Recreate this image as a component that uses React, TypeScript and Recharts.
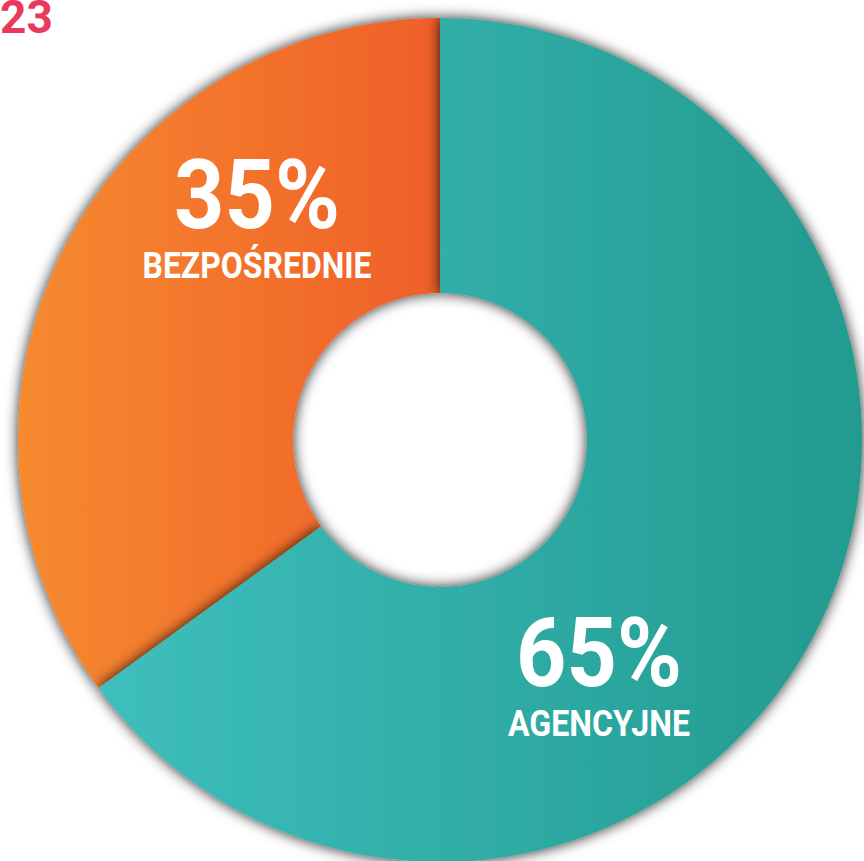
import { PieChart, Pie, Cell } from "recharts";

const categories = ["BEZPOŚREDNIE", "AGENCYJNE"];
const shares = [35, 65];
const pageNumber = "23";

const gradients = [
  { id: "gradOrange", from: "#f68a2f", to: "#ef5f2a" },
  { id: "gradTeal", from: "#3ebfbd", to: "#229a8f" },
];

// where each label block sits, relative to the center of the ring
const labelSpots = [
  { dx: -183, dy: -212 },
  { dx: 159, dy: 246 },
];

const data = categories.map((name, i) => ({ name, value: shares[i] }));

const renderLabel = (props: any) => {
  const { cx, cy, index } = props;
  const spot = labelSpots[index];
  const x = cx + spot.dx;
  const y = cy + spot.dy;
  return (
    <g style={{ fontFamily: "Roboto, sans-serif", fontWeight: 700 }}>
      <text
        x={x}
        y={y}
        textAnchor="middle"
        fill="#ffffff"
        fontSize={96}
        textLength={166}
        lengthAdjust="spacingAndGlyphs"
      >
        {shares[index]}%
      </text>
      <text
        x={x}
        y={y + 50}
        textAnchor="middle"
        fill="#ffffff"
        fontSize={36}
        textLength={index === 0 ? 229 : 182}
        lengthAdjust="spacingAndGlyphs"
      >
        {categories[index]}
      </text>
    </g>
  );
};

export default function App() {
  return (
    <div style={{ position: "absolute", left: 0, top: 0, width: 864, height: 861, background: "#fff", overflow: "hidden" }}>
      <PieChart width={864} height={861} margin={{ top: 0, right: 0, bottom: 0, left: 0 }}>
        <defs>
          {gradients.map((g) => (
            <linearGradient key={g.id} id={g.id} x1="0" y1="0" x2="1" y2="0">
              <stop offset="0%" stopColor={g.from} />
              <stop offset="100%" stopColor={g.to} />
            </linearGradient>
          ))}
          <filter id="ringShadow" x="-10%" y="-10%" width="120%" height="120%">
            <feDropShadow dx="0" dy="0" stdDeviation="7" floodColor="#000" floodOpacity="0.85" />
          </filter>
        </defs>
        <Pie
          data={data}
          dataKey="value"
          cx={440}
          cy={440}
          innerRadius={147}
          outerRadius={422}
          startAngle={216}
          endAngle={-144}
          stroke="none"
          label={renderLabel}
          labelLine={false}
          isAnimationActive={false}
        >
          {data.map((d, i) => (
            <Cell key={d.name} fill={`url(#${gradients[i].id})`} filter="url(#ringShadow)" />
          ))}
        </Pie>
      </PieChart>
      <div
        style={{
          position: "absolute",
          left: 0,
          top: -8,
          fontFamily: "Roboto, sans-serif",
          fontWeight: 700,
          fontSize: 46,
          color: "#e93a5b",
          lineHeight: 1.1,
        }}
      >
        {pageNumber}
      </div>
    </div>
  );
}
